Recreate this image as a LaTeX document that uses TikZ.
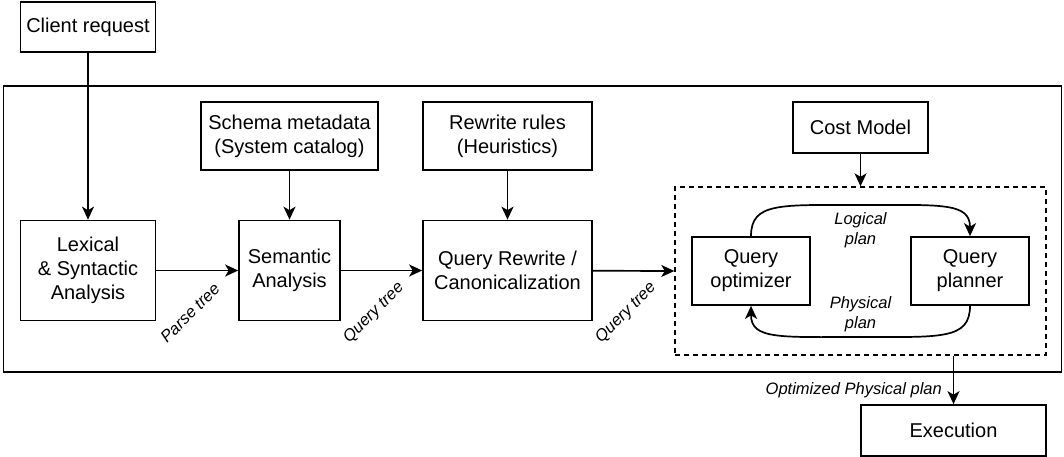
\documentclass[tikz,border=0pt]{standalone}
\usepackage{fontspec}
\setmainfont{Liberation Sans}
\usetikzlibrary{arrows.meta}
\begin{document}
\begin{tikzpicture}[x=1pt,y=-1pt,
  box/.style={draw, line width=1.7pt, inner sep=0pt, align=center, font=\fontsize{20}{24}\selectfont},
  lab/.style={font=\fontsize{16.5}{20}\selectfont\itshape, align=center, inner sep=0pt},
  rlab/.style={font=\fontsize{16.5}{20}\selectfont\itshape, inner sep=0pt, rotate=45},
  arr/.style={line width=1.7pt, -{Stealth[length=13pt,width=12pt,inset=3.5pt]}},
  ln/.style={line width=1.7pt}]
\useasboundingbox (0,0) rectangle (1064,457);
% outer frame
\node[draw, line width=1.7pt, minimum width=1058pt, minimum height=286pt, inner sep=0pt] (frame) at (532.5,229) {};
% boxes
\node[box, minimum width=135pt, minimum height=50pt] (client) at (88,27) {Client request};
\node[box, minimum width=135pt, minimum height=100pt] (lex) at (88,270.5) {Lexical\\\& Syntactic\\Analysis};
\node[box, minimum width=177pt, minimum height=68pt] (schema) at (289.5,136) {Schema metadata\\(System catalog)};
\node[box, minimum width=101pt, minimum height=100pt] (sem) at (289.5,270.5) {Semantic\\Analysis};
\node[box, minimum width=169pt, minimum height=68pt] (rules) at (507.5,136) {Rewrite rules\\(Heuristics)};
\node[box, minimum width=169pt, minimum height=100pt] (rew) at (507.5,270.5) {Query Rewrite /\\Canonicalization};
\node[box, minimum width=135pt, minimum height=51pt] (cost) at (860.5,127.5) {Cost Model};
\node[draw, dashed, dash pattern=on 5pt off 4pt, line width=1.4pt, minimum width=371pt, minimum height=168pt, inner sep=0pt] (grp) at (860.5,271) {};
\node[box, minimum width=118pt, minimum height=68pt] (opt) at (751,271) {Query\\optimizer};
\node[box, minimum width=118pt, minimum height=68pt] (pla) at (970,271) {Query\\planner};
\node[box, minimum width=185pt, minimum height=51pt] (exe) at (953.5,430.5) {Execution};
% connectors
\draw[arr] (client) -- (lex);
\draw[arr] (schema) -- (sem);
\draw[arr] (rules) -- (rew);
\draw[arr] (cost) -- (grp.north);
\draw[arr] (lex) -- (sem);
\draw[arr] (sem) -- (rew);
\draw[arr] (rew) -- (grp.west);
\draw[arr] (grp.south -| exe.north) -- (exe.north);
\coordinate (ltop) at (860.5,205);
\coordinate (lbot) at (860.5,337);
\draw[arr] (opt.north) .. controls +(0,-34) and +(-80,0) .. (ltop) .. controls +(80,0) and +(0,-34) .. (pla.north);
\draw[arr] (pla.south) .. controls +(0,34) and +(80,0) .. (lbot) .. controls +(-80,0) and +(0,34) .. (opt.south);
% labels
\node[lab] (lp) at (860.5,230) {Logical\\plan};
\node[lab] (pp) at (860.5,314) {Physical\\plan};
\node[lab, anchor=east] (opp) at (942,390) {Optimized Physical plan};
\node[rlab] (pt) at (190,313) {Parse tree};
\node[rlab] (qt1) at (374,313) {Query tree};
\node[rlab] (qt2) at (626,313) {Query tree};
\end{tikzpicture}
\end{document}
